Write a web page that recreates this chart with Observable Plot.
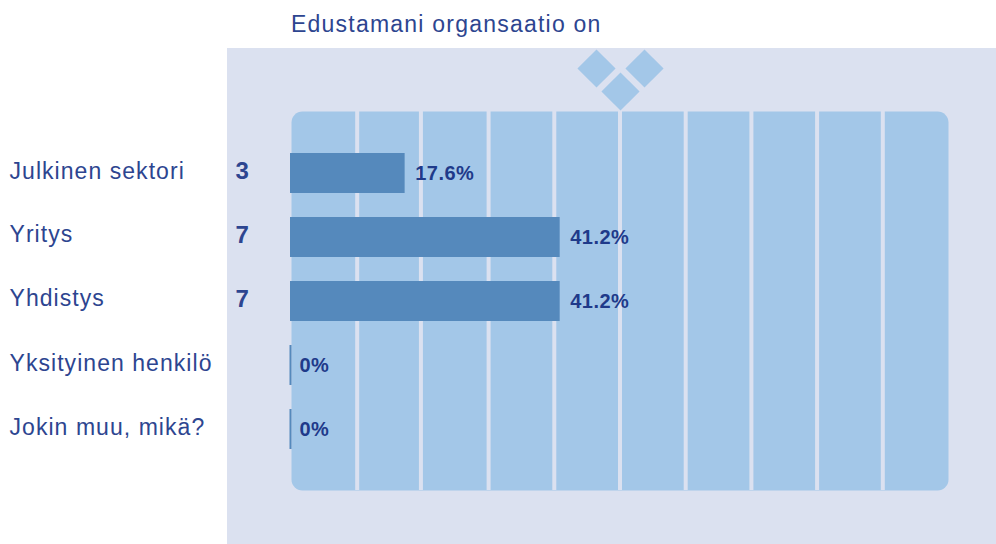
<!DOCTYPE html>
<html><head><meta charset="utf-8">
<script src="https://cdn.jsdelivr.net/npm/d3@7"></script>
<script src="https://cdn.jsdelivr.net/npm/@observablehq/plot@0.6"></script>
<style>
html,body{margin:0;padding:0;background:#fff;overflow:hidden}
#wrap{position:relative;width:996px;height:544px;font-family:"Liberation Sans",Arial,sans-serif}
#panel{position:absolute;left:227px;top:48px;right:0;bottom:0;background:#dbe1f0}
.dia{position:absolute;width:27px;height:27px;background:#a3c7e8;transform:rotate(45deg)}
#title{position:absolute;left:291px;top:9px;font-size:23px;letter-spacing:1.22px;color:#2d4590;white-space:nowrap;line-height:30px}
#chart{position:absolute;left:0;top:0}
svg{display:block;background:transparent!important}
.lab text{letter-spacing:1.05px}
.pct text{letter-spacing:.5px}
</style></head><body>
<div id="wrap">
<div id="panel"></div>
<div class="dia" style="left:582.5px;top:55px"></div>
<div class="dia" style="left:631px;top:54.5px"></div>
<div class="dia" style="left:606.5px;top:78px"></div>
<div id="title">Edustamani organsaatio on</div>
<div id="chart"></div>
</div>
<script>
const categories = ["Julkinen sektori","Yritys","Yhdistys","Yksityinen henkilö","Jokin muu, mikä?"];
const percents = [17.6,41.2,41.2,0,0];
const percentLabels = ["17.6%","41.2%","41.2%","0%","0%"];
const counts = [3,7,7,null,null];
const gridTicks = [10,19.7,30,40,50,60,70,80,90];
const rows = categories.map((c,i)=>({c,p:percents[i],pl:percentLabels[i],n:counts[i]}));
const ink = "#2d4590";
const labelStyle = {y:"c",text:"c",frameAnchor:"left",textAnchor:"start",dx:-282,fill:ink,fontSize:23,className:"lab"};
const plot = Plot.plot({
  width:996,height:544,
  marginLeft:291,marginRight:48,marginTop:111,marginBottom:54,
  style:{background:"transparent",fontFamily:'"Liberation Sans",Arial,sans-serif'},
  x:{domain:[0,100],range:[291,948],axis:null},
  y:{domain:categories,range:[140,461.5],padding:0,axis:null},
  marks:[
    Plot.frame({fill:"#a3c7e8",stroke:null,rx:11}),
    Plot.ruleX(gridTicks,{stroke:"#dbe1f0",strokeWidth:4}),
    Plot.barX(rows.filter(d=>d.p>0),{x1:()=>0,x2:"p",y:"c",insetTop:12,insetBottom:12,insetRight:1,fill:"#5589bc",dx:-1}),
    Plot.tickX(rows.filter(d=>d.p===0),{x:"p",y:"c",insetTop:12,insetBottom:12,stroke:"#5589bc",strokeWidth:2,dx:-1}),
    Plot.text(rows,{x:"p",y:"c",text:"pl",textAnchor:"start",dx:8,fill:"#1f3a8a",fontWeight:"bold",fontSize:20,className:"pct"}),
    Plot.text(rows.filter(d=>d.n!=null),{y:"c",text:"n",frameAnchor:"left",textAnchor:"start",dx:-56,dy:-2,fill:ink,fontWeight:"bold",fontSize:24}),
    Plot.text(rows.filter((d,i)=>i===0||i>2),{...labelStyle,dy:-2}),
    Plot.text(rows.filter((d,i)=>i===1||i===2),{...labelStyle,dy:-3})
  ]
});
document.getElementById("chart").appendChild(plot);
</script>
</body></html>
